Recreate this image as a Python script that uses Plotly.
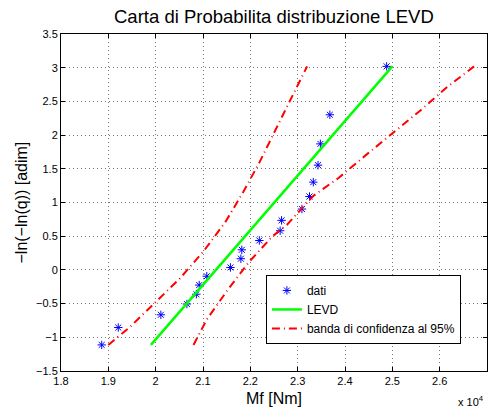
import plotly.graph_objects as go

# data
mf_dati = [18860, 19210, 20110, 20660, 20860, 20920, 21080, 21580, 21800, 21820,
           22190, 22630, 22660, 23090, 23250, 23330, 23430, 23480, 23680, 24880]
y_dati = [-1.113, -0.855, -0.666, -0.506, -0.361, -0.225, -0.094, 0.036, 0.166, 0.298,
          0.436, 0.581, 0.735, 0.903, 1.089, 1.302, 1.554, 1.870, 2.302, 3.020]

mf_levd = [19900, 25000]
y_levd = [-1.113, 3.020]

mf_band_sx = [19000, 19455, 19985, 20515, 21008, 21468, 21856, 22195, 22703, 23200]
y_band_sx = [-1.113, -0.849, -0.487, -0.124, 0.273, 0.705, 1.162, 1.599, 2.320, 3.020]

mf_band_dx = [20800, 21081, 21504, 21962, 22458, 22775, 23339, 23869, 24434, 25034,
              25600, 26165, 26729]
y_band_dx = [-1.113, -0.735, -0.313, 0.109, 0.492, 0.671, 1.103, 1.367, 1.699, 2.046,
             2.370, 2.717, 3.020]

x_tickvals = [18000, 19000, 20000, 21000, 22000, 23000, 24000, 25000, 26000, 27000]
x_ticktext = ["1.8", "1.9", "2", "2.1", "2.2", "2.3", "2.4", "2.5", "2.6", "2.7"]
y_tickvals = [-1.5, -1, -0.5, 0, 0.5, 1, 1.5, 2, 2.5, 3, 3.5]
y_ticktext = ["\u22121.5", "\u22121", "\u22120.5", "0", "0.5", "1", "1.5", "2", "2.5", "3", "3.5"]

FONT = "Liberation Sans, Arial, Helvetica, sans-serif"

fig = go.Figure()
fig.add_trace(go.Scatter(
    x=mf_dati, y=y_dati, mode="markers", name="dati",
    marker=dict(symbol="asterisk-open", size=7, color="#0000ff",
                line=dict(color="#0000ff", width=1))))
fig.add_trace(go.Scatter(
    x=mf_levd, y=y_levd, mode="lines", name="LEVD",
    line=dict(color="#00ff00", width=2.5)))
fig.add_trace(go.Scatter(
    x=mf_band_sx, y=y_band_sx, mode="lines", name="banda di confidenza al 95%",
    line=dict(color="#ff0000", width=2, dash="8px,4px,1px,4px")))
fig.add_trace(go.Scatter(
    x=mf_band_dx, y=y_band_dx, mode="lines", showlegend=False,
    line=dict(color="#ff0000", width=2, dash="8px,4px,1px,4px")))

axis_common = dict(
    showline=True, linecolor="black", linewidth=1, mirror="ticks",
    ticks="inside", ticklen=4, tickcolor="black", tickwidth=1,
    showgrid=True, gridcolor="#777777", gridwidth=1, griddash="1px,3px",
    zeroline=False, tickfont=dict(family=FONT, size=11, color="black"),
    automargin=False,
)

fig.update_xaxes(range=[18000, 27000], tickmode="array",
                 tickvals=x_tickvals, ticktext=x_ticktext, **axis_common)
fig.update_yaxes(range=[-1.5, 3.5], tickmode="array",
                 tickvals=y_tickvals, ticktext=y_ticktext, **axis_common)

fig.update_layout(
    width=494, height=412,
    margin=dict(l=61, r=7, t=34, b=41),
    paper_bgcolor="white", plot_bgcolor="white",
    font=dict(family=FONT, color="black"),
    showlegend=True,
    legend=dict(x=0.481, y=0.285, xanchor="left", yanchor="top",
                bordercolor="black", borderwidth=1, bgcolor="white",
                font=dict(family=FONT, size=12, color="black"),
                tracegroupgap=0),
    annotations=[
        dict(text="Carta di Probabilita distribuzione LEVD", xref="paper", yref="paper",
             x=0.5, y=(371 - 17) / 337, xanchor="center", yanchor="middle",
             showarrow=False, font=dict(family=FONT, size=18.5, color="black")),
        dict(text="Mf [Nm]", xref="paper", yref="paper",
             x=0.5, y=(371 - 398) / 337, xanchor="center", yanchor="middle",
             showarrow=False, font=dict(family=FONT, size=16, color="black")),
        dict(text="\u2212ln(\u2212ln(q)) [adim]", xref="paper", yref="paper",
             x=(21 - 61) / 426, y=0.5, xanchor="center", yanchor="middle",
             textangle=-90, showarrow=False,
             font=dict(family=FONT, size=16, color="black")),
        dict(text="x 10<sup>4</sup>", xref="paper", yref="paper",
             x=(471 - 61) / 426, y=(371 - 401) / 337, xanchor="center", yanchor="middle",
             showarrow=False, font=dict(family=FONT, size=11, color="black")),
    ],
)

fig.write_html("out.html", config={"displayModeBar": False},
               post_script="document.body.style.margin='0px';")
